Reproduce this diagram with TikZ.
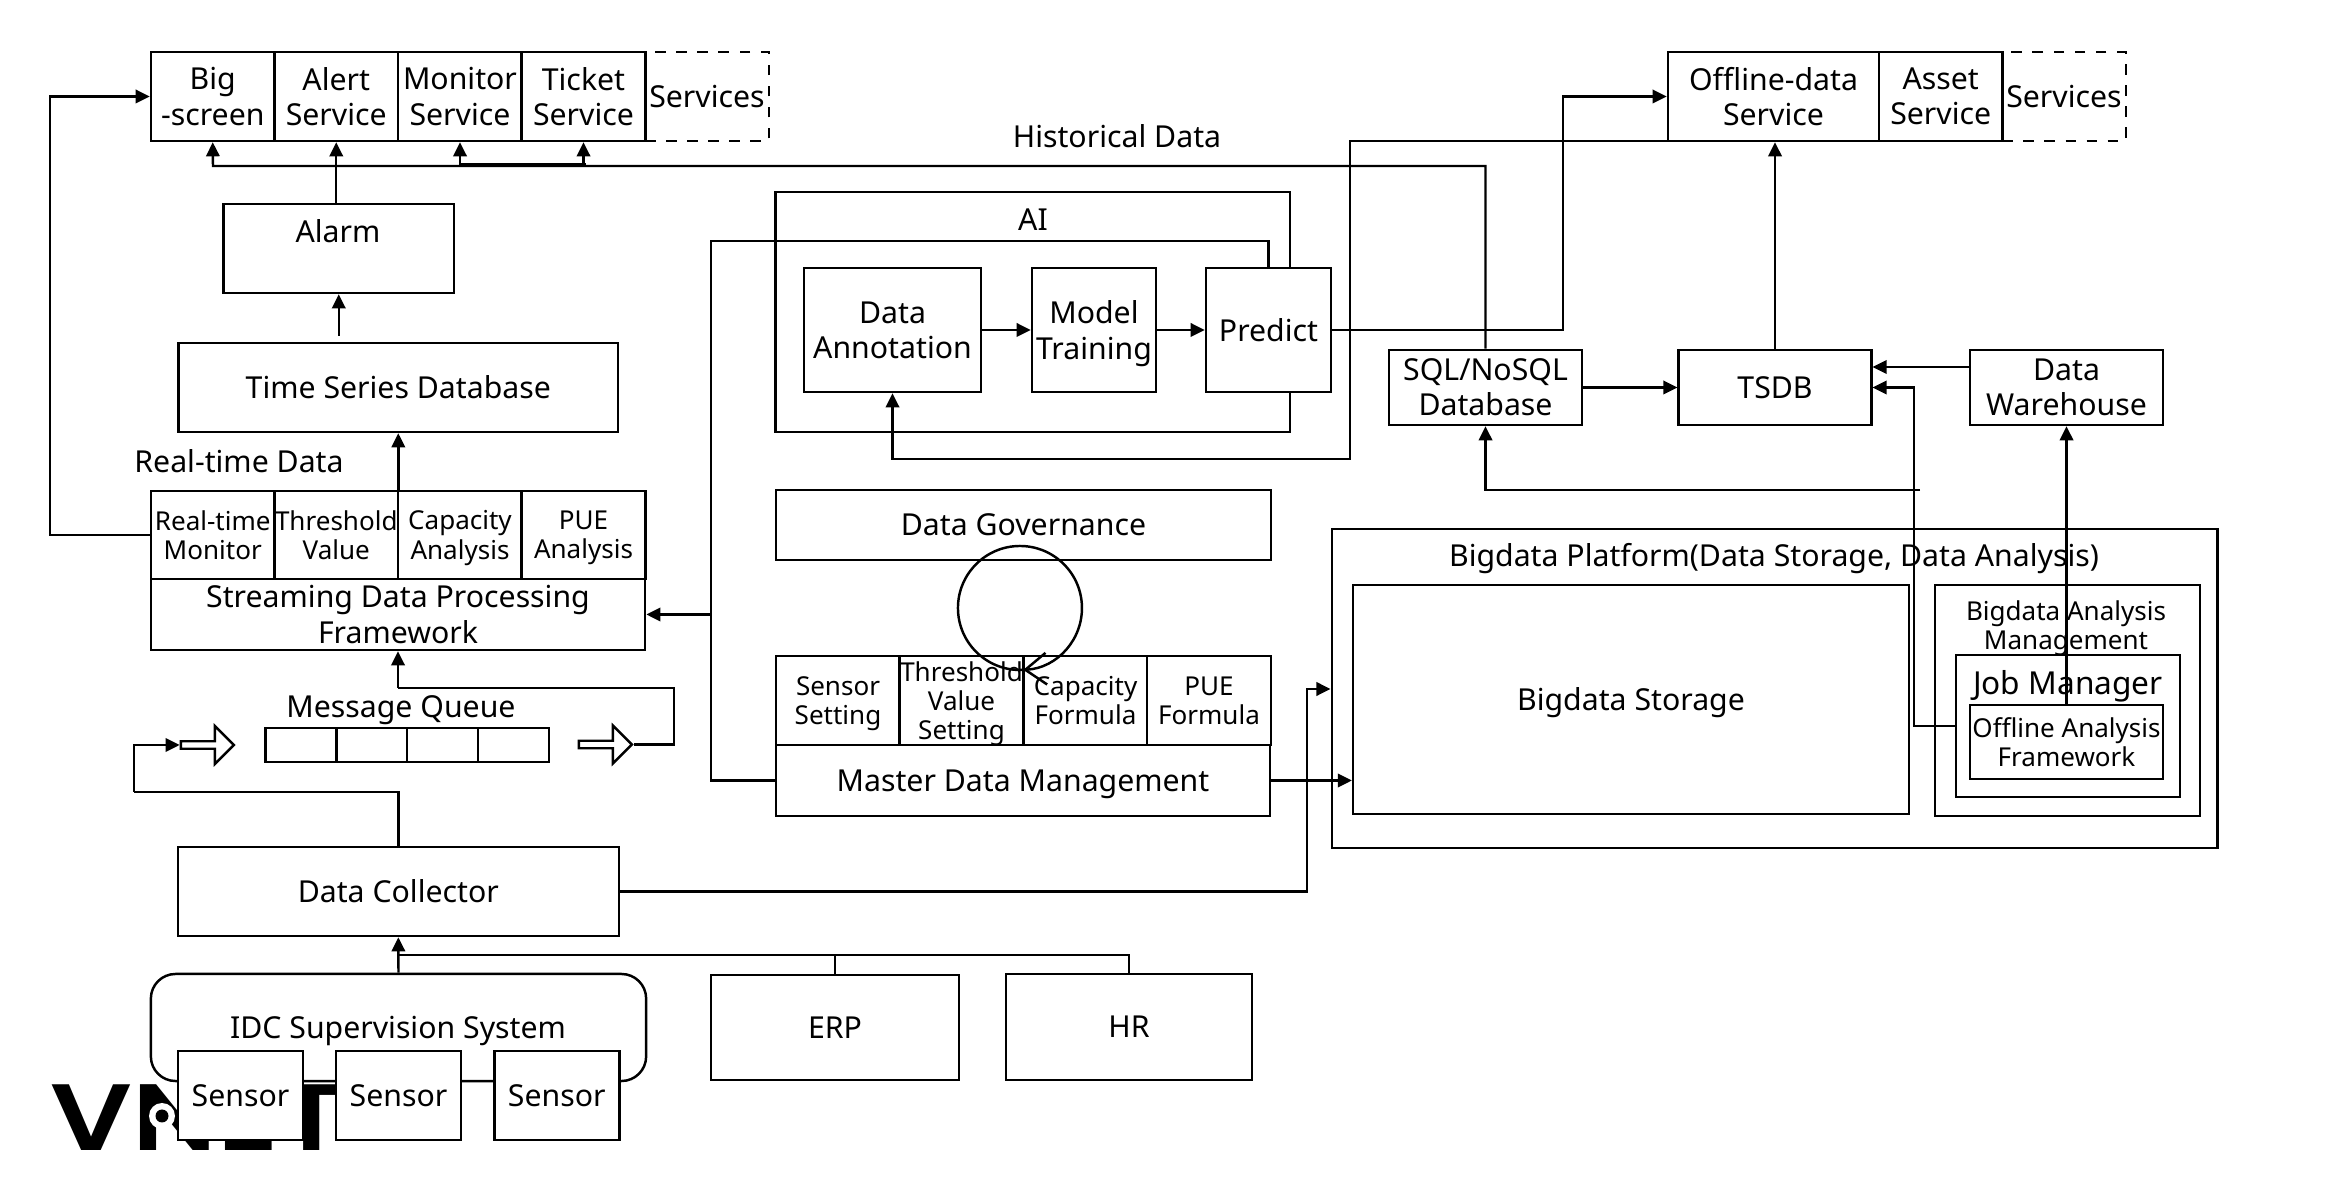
\documentclass[tikz,border=0pt]{standalone}
\usepackage{fontspec}
\setmainfont{Noto Sans}
\newfontfamily\logofont{Poppins SemiBold}
\usetikzlibrary{shapes,arrows.meta,positioning,calc}
\tikzset{
  boxed/.style={draw, fill=white, line width=0.7pt, inner sep=0pt, align=center, font=\fontsize{8.6}{10}\selectfont},
  small/.style={font=\fontsize{7.4}{8.3}\selectfont},
  smallrow/.style={small, execute at begin node={\rule{0pt}{7.8pt}}},
  label text/.style={inner sep=0pt, align=center, font=\fontsize{8.6}{10}\selectfont},
  conn/.style={line width=0.7pt},
  hollow/.style={draw, line width=0.7pt, fill=white, shape=single arrow, inner sep=0pt, minimum height=0.53cm, minimum width=0.38cm, single arrow head extend=0.05cm},
  >={Triangle[length=4pt,width=3.8pt]}
}

\begin{document}
\begin{tikzpicture}[x=0.01cm, y=-0.01cm]
  \useasboundingbox (0,0) rectangle (2342,1180);

  % Logo under the sensors
  \node[inner sep=0pt, anchor=west] (logo) at (50,1118) {\scalebox{1.26}[1.03]{\logofont\fontsize{26}{26}\selectfont VNET}};
  \fill[white] (162,1116) circle (13);
  \fill (162,1116) circle (6.5);

  % Service rows on top
  \foreach \x/\nm/\txt in {212.75/bigscreen/{Big\\-screen}, 336.25/alert/{Alert\\Service}, 460/monitor/{Monitor\\Service}, 583.5/ticket/{Ticket\\Service}} {
    \node[boxed, minimum width=1.235cm, minimum height=0.89cm] (\nm) at (\x,96.5) {\txt};
  }
  \node[boxed, dashed, fill=none, minimum width=1.24cm, minimum height=0.89cm] (services) at (707,96.5) {Services};
  \node[boxed, minimum width=2.11cm, minimum height=0.89cm] (offlinesvc) at (1773.5,96.5) {Offline-data\\Service};
  \node[boxed, minimum width=1.235cm, minimum height=0.89cm] (asset) at (1940.75,96.5) {Asset\\Service};
  \node[boxed, dashed, fill=none, minimum width=1.235cm, minimum height=0.89cm] (servicesb) at (2064,96.5) {Services};

  % Real-time side
  \node[boxed, minimum width=2.305cm, minimum height=0.89cm] (alarm) at (338.75,248.5) {};
  \node[label text] (alarmtext) at (338,231) {Alarm};
  \node[boxed, minimum width=4.394cm, minimum height=0.89cm] (timeseries) at (398.3,387.5) {Time Series Database};
  \node[label text] (realtime) at (239,461) {Real-time Data};
  \foreach \x/\nm/\txt in {212.75/rtmonitor/{Real-time\\Monitor}, 336.25/threshold/{Threshold\\Value}, 460/capacity/{Capacity\\\smash{Analysis}}, 583.5/pue/{PUE\\\smash{Analysis}}} {
    \node[boxed, smallrow, minimum width=1.235cm, minimum height=0.88cm] (\nm) at (\x,535) {\txt};
  }
  \node[boxed, minimum width=4.94cm, minimum height=0.71cm] (streaming) at (398,614.5) {Streaming Data Processing\\Framework};

  % Message queue
  \node[label text] (mqtitle) at (401,710) {Message Queue};
  \foreach \x/\nm in {301/mqa, 372/mqb, 442.5/mqc, 513.5/mqd} {
    \node[boxed, minimum width=0.71cm, minimum height=0.345cm] (\nm) at (\x,745) {};
  }
  \node[hollow] (mqin) at (205.5,745) {};
  \node[hollow] (mqout) at (603.5,744.5) {};

  % Collection
  \node[boxed, minimum width=4.406cm, minimum height=0.89cm] (collector) at (398.3,891.5) {Data Collector};
  \node[boxed, fill=none, rounded corners=7pt, minimum width=4.95cm, minimum height=1.07cm] (idc) at (398.5,1027.5) {};
  \node[label text] (idctext) at (398,1031) {IDC Supervision System};
  \foreach \x/\nm in {240.5/sensora, 398.5/sensorb, 556.8/sensorc} {
    \node[boxed, minimum width=1.25cm, minimum height=0.89cm] (\nm) at (\x,1095.5) {Sensor};
  }
  \node[boxed, minimum width=2.476cm, minimum height=1.05cm] (erp) at (835,1027.5) {ERP};
  \node[boxed, minimum width=2.46cm, minimum height=1.06cm] (hr) at (1129,1027) {HR};

  % AI
  \node[boxed, fill=none, minimum width=5.145cm, minimum height=2.4cm] (ai) at (1032.75,312) {};
  \node[label text] (aitext) at (1033,220) {AI};
  \node[boxed, minimum width=1.77cm, minimum height=1.24cm] (annotation) at (892.5,330) {Data\\Annotation};
  \node[boxed, minimum width=1.24cm, minimum height=1.24cm] (training) at (1094,330) {Model\\\smash{Training}};
  \node[boxed, minimum width=1.25cm, minimum height=1.24cm] (predict) at (1268.5,330) {Predict};

  % Master data
  \node[boxed, text depth=0pt, minimum width=4.95cm, minimum height=0.7cm] (governance) at (1023.5,525) {Data Governance};
  \foreach \x/\nm/\txt in {838/sensorset/{Sensor\\\smash{Setting}}, 961.5/thresholdset/{Threshold\\Value\\\smash{Setting}}, 1085.5/formula/{Capacity\\Formula}, 1209/pueformula/{PUE\\Formula}} {
    \node[boxed, smallrow, minimum width=1.235cm, minimum height=0.89cm] (\nm) at (\x,700.5) {\txt};
  }
  \node[boxed, text depth=0pt, minimum width=4.94cm, minimum height=0.71cm] (master) at (1023,780.5) {Master Data Management};

  % Bigdata platform
  \node[boxed, fill=none, minimum width=8.85cm, minimum height=3.19cm] (platform) at (1774.5,688.5) {};
  \node[label text] (platformtext) at (1774,559) {Bigdata Platform(Data Storage, Data Analysis)};
  \node[boxed, text depth=0pt, minimum width=5.555cm, minimum height=2.29cm] (storage) at (1631,699.5) {Bigdata Storage};
  \node[boxed, fill=none, minimum width=2.65cm, minimum height=2.31cm] (analysis) at (2067.5,700.5) {};
  \node[label text, small] (analysistext) at (2066,628) {Bigdata Analysis\\Management};
  \node[boxed, fill=none, minimum width=2.24cm, minimum height=1.42cm] (job) at (2068,726) {};
  \node[label text, font=\fontsize{9}{11}\selectfont] (jobtext) at (2068,686) {Job Manager};
  \node[boxed, small, minimum width=1.93cm, minimum height=0.74cm] (offlineframe) at (2066.5,742) {Offline Analysis\\Framework};

  % Stores
  \node[boxed, minimum width=1.93cm, minimum height=0.75cm] (sql) at (1485.5,387.5) {SQL/NoSQL\\Database};
  \node[boxed, minimum width=1.925cm, minimum height=0.75cm] (tsdb) at (1775,387.5) {TSDB};
  \node[boxed, minimum width=1.93cm, minimum height=0.75cm] (warehouse) at (2066.5,387.5) {Data\\Warehouse};
  \node[label text] (historical) at (1117,136) {Historical Data};

  % Turning points
  \coordinate (histbus) at (213,166);
  \coordinate (histbusb) at (586,164);
  \coordinate (aiback) at (711,241);
  \coordinate (retrain) at (1350,459);
  \coordinate (offlineup) at (1563,330);
  \coordinate (offlineend) at (1718,141);
  \coordinate (sqlfeed) at (1920,490);
  \coordinate (jobup) at (1914,726);
  \coordinate (platformup) at (1307,689);
  \coordinate (queueback) at (674,688);
  \coordinate (queuein) at (134,792);
  \coordinate (sourcebus) at (398,955);

  % Connectors
  \draw[conn, ->] (rtmonitor.west) -- ++(-100,0) |- (bigscreen.west);
  \draw[conn, ->] (sql.north) |- (histbus) -- (bigscreen.south);
  \draw[conn, ->] (monitor.south |- histbus) -- (monitor.south);
  \draw[conn, ->] (ticket.south |- histbus) -- (ticket.south);
  \draw[conn] (monitor.south |- histbusb) -- (histbusb);
  \draw[conn, ->] (alert.south |- alarm.north) -- (alert.south);
  \draw[conn, ->, shorten <=1.7pt] (alarm.south |- timeseries.north) -- (alarm.south);
  \draw[conn, ->] (timeseries.south |- capacity.north) -- (timeseries.south);
  \draw[conn, ->] (streaming.south |- queueback) -- (streaming.south);
  \draw[conn] (streaming.south |- queueback) -- (queueback) |- (mqout.tip);
  \draw[conn] (collector.north) |- (queuein);
  \draw[conn, ->] (queuein) |- (mqin.tail);
  \draw[conn, ->] (collector.east) -| (platformup) -- (platform.west |- platformup);
  \draw[conn, ->] (master.east) -- (storage.west |- master.east);
  \draw[conn, ->] (idc.north) -- (collector.south);
  \draw[conn] (sourcebus) -| (hr.north);
  \draw[line width=0.35pt] (erp.north |- sourcebus) -- (erp.north);
  \draw[conn, ->] (annotation.east |- predict) -- (training.west |- predict);
  \draw[conn, ->] (training.east |- predict) -- (predict.west);
  \draw[conn] (predict.north) |- (aiback) |- (master.west);
  \draw[conn, ->] (aiback |- streaming.east) -- (streaming.east);
  \draw[conn, ->] (offlineend) -| (retrain) -| (annotation.south);
  \draw[conn, ->] (predict.east) -- (offlineup) |- (offlinesvc.west);
  \draw[conn, ->] (sql.east) -- (tsdb.west);
  \draw[conn, ->] (tsdb.north) -- (tsdb.north |- offlinesvc.south);
  \draw[conn, ->] (warehouse.west |- 0,367) -- (tsdb.east |- 0,367);
  \draw[conn, ->] (job.west |- jobup) -- (jobup) |- (tsdb.east);
  \draw[conn, ->] (sqlfeed) -| (sql.south);
  \draw[conn, ->] (offlineframe.north) -- (warehouse.south);

  % Loop on the threshold setting
  \coordinate (loopend) at (1023.2,669.9);
  \draw[line width=0.7pt, -{Straight Barb[length=6pt,width=9pt]}] (loopend) arc[start angle=87, end angle=447, radius=62];
\end{tikzpicture}
\end{document}
